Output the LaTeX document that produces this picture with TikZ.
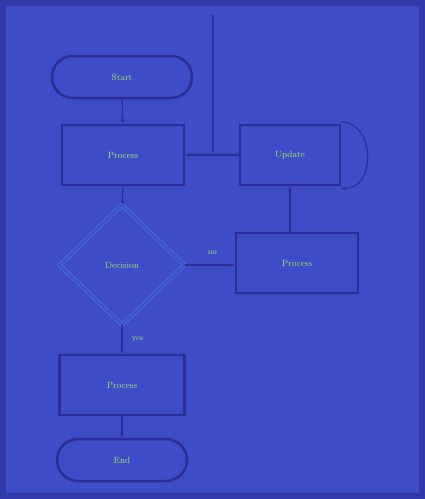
\documentclass[tikz,border=0pt]{standalone}
\usetikzlibrary{shapes.geometric,shapes.misc,arrows.meta}
\definecolor{bgblue}{RGB}{62,76,200}
\definecolor{frameblue}{RGB}{50,58,170}
\definecolor{edgeblue}{RGB}{44,46,150}
\definecolor{lightedge}{RGB}{70,120,230}
\definecolor{txt}{RGB}{170,230,100}
\tikzset{
  every node/.style={font=\small, text=txt},
  procbox/.style={draw=edgeblue, line width=2.5pt, rectangle, minimum width=#1, minimum height=60pt, inner sep=0pt},
  termbox/.style={draw=edgeblue, line width=2.5pt, rounded rectangle, minimum width=#1, minimum height=42pt, inner sep=0pt},
  decbox/.style={draw=lightedge, double=bgblue, double distance=2pt, line width=0.8pt, diamond, aspect=1.05, minimum width=125pt, minimum height=120pt, inner sep=0pt},
  conn/.style={draw=edgeblue, line width=1.2pt, -{Stealth[length=5pt]}},
  lbl/.style={font=\footnotesize}
}
\begin{document}
\begin{tikzpicture}[x=1pt,y=-1pt]
\useasboundingbox (0,0) rectangle (425,499);
\fill[frameblue] (0,0) rectangle (425,499);
\fill[bgblue] (6,6) rectangle (419,493);
\node[termbox=140pt] (start) at (122,77) {Start};
\node[procbox=122pt] (p1) at (123,155) {Process};
\node[decbox] (dec) at (122,265) {Decision};
\node[procbox=125pt] (p2) at (122,385) {Process};
\node[termbox=130pt] (end) at (122,460) {End};
\node[procbox=100pt] (r1) at (290,155) {Update};
\node[procbox=122pt] (r2) at (297,263) {Process};
\coordinate (top) at (213,15);
\coordinate (join) at (213,152);
\draw[conn] (start) -- (p1);
\draw[conn] (p1) -- (dec);
\draw[conn] (dec) -- node[lbl, right=6pt, pos=0.5] {yes} (p2);
\draw[conn] (p2) -- (end);
\draw[conn] (dec) -- node[lbl, above=6pt, pos=0.55] {no} (dec -| r2.west);
\draw[conn] (r2.north -| r1) -- (r1.south);
\draw[conn] (r1.west) -- (r1.west -| p1.east);
\draw[draw=edgeblue, line width=1.2pt] (top) -- (join);
\draw[conn] ([yshift=2pt]r1.north east) .. controls (376,123) and (376,190) .. ([yshift=-2pt]r1.south east);
\end{tikzpicture}
\end{document}
